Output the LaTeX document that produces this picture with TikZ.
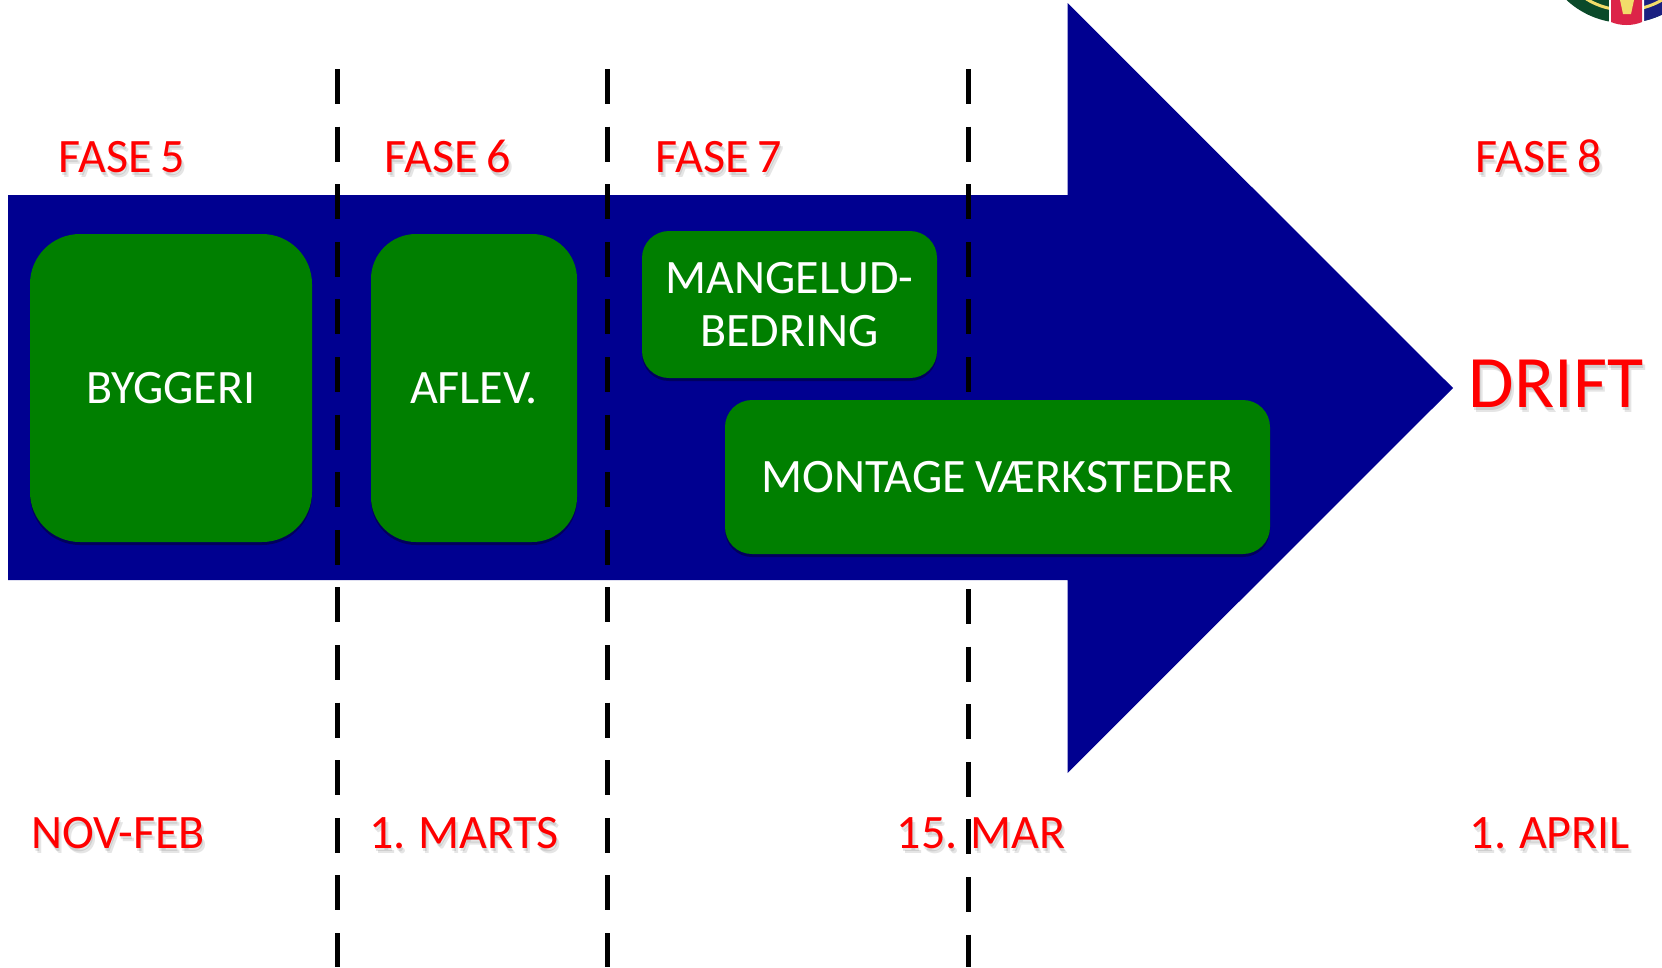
\documentclass[tikz,border=0pt]{standalone}
\usepackage{fontspec}
\setmainfont[WordSpace=0.85]{Carlito}
\usetikzlibrary{shadows}
\definecolor{navyarrow}{HTML}{000090}
\definecolor{boxgreen}{HTML}{007F00}
\definecolor{logored}{HTML}{DC2448}
\definecolor{logogreen}{HTML}{0B4A2A}
\definecolor{logoblue}{HTML}{1B2080}
\definecolor{logoyellow}{HTML}{F2DC6A}
\tikzset{
  phaseline/.style={line width=5pt,black,dash pattern=on 35pt off 22.6pt},
  greenbox/.style={fill=boxgreen,text=white,inner sep=0pt,align=center,
    font=\fontsize{48}{53}\selectfont,
    drop shadow={shadow xshift=0pt,shadow yshift=-3pt,opacity=.35,fill=black}},
  redlabel/.style={text=red,inner sep=0pt,text height=31pt,text depth=0pt,font=\fontsize{48}{53}\selectfont},
  redglow/.style={redlabel,text=black,text opacity=.1},
  driftlabel/.style={redlabel,text height=47pt,font=\fontsize{74}{78}\selectfont},
  driftglow/.style={driftlabel,text=black,text opacity=.1},
}
\newcommand{\redtext}[3]{%
  \node[redglow] (#1a) at ([shift={(1,3)}]#2) {#3};
  \node[redglow] (#1b) at ([shift={(3,5)}]#2) {#3};
  \node[redlabel] (#1) at (#2) {#3};}
\begin{document}
\begin{tikzpicture}[x=1pt,y=-1pt]
\useasboundingbox (0,0) rectangle (1662,967);
% logo
\begin{scope}
  \clip (1500,0) rectangle (1662,40);
  \fill[logogreen] (1625,-63) circle (86);
  \begin{scope}
    \clip (1625,-70) rectangle (1662,40);
    \fill[logoblue] (1625,-63) circle (86);
  \end{scope}
  \draw[logoyellow,line width=3pt] (1625,-63) circle (73);
  \fill[white] (1609,0) -- (1609,23) .. controls (1618,27) and (1634,27) .. (1644,23) -- (1644,0) -- cycle;
  \fill[logored] (1611,0) -- (1611,22) .. controls (1620,26) and (1633,26) .. (1642,22) -- (1642,0) -- cycle;
  \fill[logoyellow] (1620,0) -- (1623,14) -- (1631,14) -- (1634,0) -- cycle;
\end{scope}
% arrow
\fill[navyarrow] (8,195) -- (1067.5,195) -- (1067.5,3) -- (1453,388) -- (1067.5,773) -- (1067.5,580) -- (8,580) -- cycle;
% phase lines
\coordinate (l1t) at (337,69); \coordinate (l1b) at (337,967);
\coordinate (l2t) at (607,69); \coordinate (l2b) at (607,967);
\coordinate (l3t) at (968,69); \coordinate (l3m) at (968,500);
\coordinate (l3n) at (968,589); \coordinate (l3b) at (968,967);
\draw[phaseline] (l1t) -- (l1b);
\draw[phaseline] (l2t) -- (l2b);
\draw[phaseline] (l3t) -- (l3m);
\draw[phaseline] (l3n) -- (l3b);
% boxes
\node[greenbox,rounded corners=50pt,minimum width=282pt,minimum height=308pt] (byg) at (171,388) {BYGGERI};
\node[greenbox,rounded corners=45pt,minimum width=206pt,minimum height=308pt] (afl) at (474,388) {AFLEV.};
\node[greenbox,rounded corners=27pt,minimum width=295pt,minimum height=147pt] (man) at (789.5,304.5) {MANGELUD-\\BEDRING};
\node[greenbox,rounded corners=27pt,minimum width=545pt,minimum height=154pt] (mon) at (997.5,477) {MONTAGE VÆRKSTEDER};
% labels, each with the soft shadow the reference gives its red text
\redtext{f5}{122,157}{FASE 5}
\redtext{f6}{448,157}{FASE 6}
\redtext{f7}{719,157}{FASE 7}
\redtext{f8}{1539,157}{FASE 8}
\redtext{d1}{118,833}{NOV-FEB}
\redtext{d2}{464,833}{1. MARTS}
\redtext{d3}{981,833}{15. MAR}
\redtext{d4}{1550,833}{1. APRIL}
\node[driftglow] (drifta) at (1557,387) {DRIFT};
\node[driftglow] (driftb) at (1559,389) {DRIFT};
\node[driftlabel] (drift) at (1556,384) {DRIFT};
\end{tikzpicture}
\end{document}
